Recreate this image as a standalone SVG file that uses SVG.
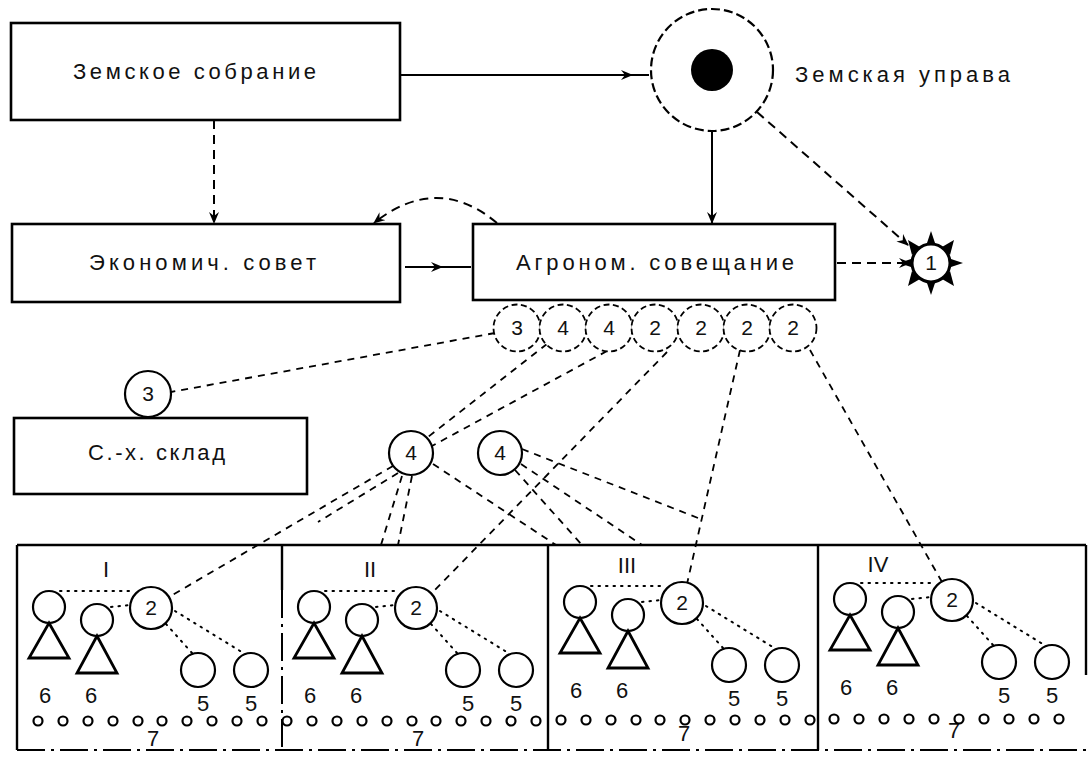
<svg xmlns="http://www.w3.org/2000/svg" width="1089" height="757" viewBox="0 0 1089 757">
<style>
.box{fill:#fff;stroke:#000;stroke-width:2.6}
.lbl{font-family:"Liberation Sans",Arial,sans-serif;font-size:22px;fill:#111}
.num{font-family:"Liberation Sans",Arial,sans-serif;font-size:21px;fill:#111;text-anchor:middle}
.big{font-family:"Liberation Sans",Arial,sans-serif;font-size:22px;fill:#111;text-anchor:middle}
.solid{fill:none;stroke:#000;stroke-width:2}
.dash{fill:none;stroke:#000;stroke-width:2;stroke-dasharray:9 6}
.fine{fill:none;stroke:#000;stroke-width:1.8;stroke-dasharray:7 6}
.dot{fill:none;stroke:#000;stroke-width:2;stroke-dasharray:1.5 6;stroke-linecap:round}
.dc{fill:#fff;stroke:#000;stroke-width:1.8;stroke-dasharray:6 3.5}
.c{fill:#fff;stroke:#000;stroke-width:2.2}
.p{fill:none;stroke:#000;stroke-width:2.8}
.sc{fill:#fff;stroke:#000;stroke-width:2.2}
.frame{fill:none;stroke:#000;stroke-width:2.4}
.dd{fill:none;stroke:#000;stroke-width:2;stroke-dasharray:28 6 3 6}
</style>
<defs>
<marker id="ah" viewBox="0 0 12 10" refX="11" refY="5" markerWidth="12" markerHeight="10" markerUnits="userSpaceOnUse" orient="auto">
<path d="M0,0 L12,5 L0,10 L4,5 Z" fill="#000"/>
</marker>
<g id="sect">
<circle class="c" cx="49" cy="607" r="16"/>
<path class="p" d="M49,623 L69,658 L29,658 Z"/>
<circle class="c" cx="97" cy="620" r="16"/>
<path class="p" d="M97,636 L117,673 L77,673 Z"/>
<circle class="c" cx="151" cy="608" r="21"/>
<text class="num" x="151" y="615">2</text>
<circle class="c" cx="198" cy="670" r="17"/>
<circle class="c" cx="251" cy="670" r="17"/>
<line class="dot" x1="60" y1="591" x2="134" y2="591"/>
<line class="dot" x1="111" y1="607" x2="130" y2="605"/>
<line class="dot" x1="166" y1="624" x2="192" y2="653"/>
<line class="dot" x1="175" y1="611" x2="245" y2="654"/>
<text class="big" x="45" y="703">6</text>
<text class="big" x="91" y="703">6</text>
<text class="big" x="203" y="711">5</text>
<text class="big" x="251" y="711">5</text>
<text class="big" x="153" y="746">7</text>
</g>
</defs>
<rect width="1089" height="757" fill="#fff"/>

<g id="connectors">
<path class="solid" d="M400,75 L632,75 L649,75" marker-mid="url(#ah)"/>
<line class="dash" x1="214" y1="120" x2="214" y2="223" marker-end="url(#ah)"/>
<line class="solid" x1="712" y1="132" x2="712" y2="223" marker-end="url(#ah)"/>
<line class="dash" x1="757" y1="112" x2="908" y2="245" marker-end="url(#ah)"/>
<line class="dash" x1="837" y1="263" x2="910" y2="263" marker-end="url(#ah)"/>
<path class="solid" d="M405,267 L442,267 L471,267" marker-mid="url(#ah)"/>
<path class="dash" d="M497,223 Q437,173 374,223" marker-end="url(#ah)"/>
<line class="fine" x1="495" y1="333" x2="171" y2="392"/>
<line class="fine" x1="547" y1="344" x2="428" y2="437"/>
<line class="fine" x1="607" y1="351" x2="432" y2="446"/>
<line class="fine" x1="667" y1="352" x2="432" y2="593"/>
<line class="fine" x1="740" y1="350" x2="687" y2="584"/>
<line class="fine" x1="810" y1="350" x2="942" y2="582"/>
<line class="fine" x1="393" y1="466" x2="169" y2="597"/>
<line class="fine" x1="398" y1="473" x2="318" y2="522"/>
<line class="fine" x1="402" y1="476" x2="381" y2="545"/>
<line class="fine" x1="412" y1="476" x2="398" y2="545"/>
<line class="fine" x1="433" y1="464" x2="556" y2="545"/>
<line class="fine" x1="515" y1="470" x2="582" y2="545"/>
<line class="fine" x1="521" y1="464" x2="642" y2="545"/>
<line class="fine" x1="522" y1="449" x2="698" y2="518"/>
</g>

<g id="zemskoe-sobranie">
<rect class="box" x="11" y="23" width="389" height="97"/>
<text class="lbl" x="73" y="79" textLength="243" lengthAdjust="spacing">Земское собрание</text>
</g>

<g id="zemskaya-uprava">
<circle cx="712" cy="70" r="61" fill="#fff" stroke="#000" stroke-width="2.2" stroke-dasharray="9 4"/>
<circle cx="712" cy="70" r="21" fill="#000"/>
<text class="lbl" x="795" y="82" textLength="215" lengthAdjust="spacing">Земская управа</text>
</g>

<g id="ekonom-sovet">
<rect class="box" x="12" y="224" width="388" height="78"/>
<text class="lbl" x="89" y="270" textLength="227" lengthAdjust="spacing">Экономич. совет</text>
</g>

<g id="agronom-soveshchanie">
<rect class="box" x="473" y="224" width="362" height="76"/>
<text class="lbl" x="516" y="270" textLength="278" lengthAdjust="spacing">Агроном. совещание</text>
</g>

<g id="sun-1">
<g fill="#000">
<path d="M931,231 L926,246 L936,246 Z"/>
<path d="M931,295 L926,280 L936,280 Z"/>
<path d="M899,263 L914,258 L914,268 Z"/>
<path d="M963,263 L948,258 L948,268 Z"/>
<path d="M908,240 L912,255 L920,247 Z"/>
<path d="M954,240 L950,255 L942,247 Z"/>
<path d="M908,286 L912,271 L920,279 Z"/>
<path d="M954,286 L950,271 L942,279 Z"/>
</g>
<circle cx="931" cy="263" r="19" fill="#fff" stroke="#000" stroke-width="3"/>
<text class="num" x="931" y="270" font-size="18">1</text>
</g>

<g id="row-circles">
<circle class="dc" cx="517" cy="328" r="23.5"/><text class="num" x="517" y="335">3</text>
<circle class="dc" cx="563" cy="328" r="23.5"/><text class="num" x="563" y="335">4</text>
<circle class="dc" cx="609" cy="328" r="23.5"/><text class="num" x="609" y="335">4</text>
<circle class="dc" cx="655" cy="328" r="23.5"/><text class="num" x="655" y="335">2</text>
<circle class="dc" cx="701" cy="328" r="23.5"/><text class="num" x="701" y="335">2</text>
<circle class="dc" cx="747" cy="328" r="23.5"/><text class="num" x="747" y="335">2</text>
<circle class="dc" cx="793" cy="328" r="23.5"/><text class="num" x="793" y="335">2</text>
</g>

<g id="sklad">
<rect class="box" x="14" y="418" width="293" height="76"/>
<circle class="c" cx="148" cy="394" r="23"/>
<text class="num" x="148" y="401">3</text>
<text class="lbl" x="88" y="460" textLength="137" lengthAdjust="spacing">С.-х. склад</text>
</g>

<g id="circle-4a">
<circle class="c" cx="411" cy="453" r="22"/>
<text class="num" x="411" y="460">4</text>
</g>
<g id="circle-4b">
<circle class="c" cx="500" cy="453" r="22"/>
<text class="num" x="500" y="460">4</text>
</g>

<g id="frame">
<line class="frame" x1="17" y1="545" x2="1086" y2="545"/>
<line class="frame" x1="17" y1="545" x2="17" y2="750"/>
<line class="dd" x1="17" y1="750" x2="1086" y2="750"/>
<line class="frame" x1="1086" y1="545" x2="1086" y2="675"/>
<line class="frame" x1="282" y1="545" x2="282" y2="590"/>
<line class="dd" x1="282" y1="590" x2="282" y2="750"/>
<line class="frame" x1="548" y1="545" x2="548" y2="750"/>
<line class="frame" x1="818" y1="545" x2="818" y2="750"/>
<text class="big" x="106" y="577">I</text>
<text class="big" x="370" y="577">II</text>
<text class="big" x="627" y="573">III</text>
<text class="big" x="878" y="572">IV</text>
</g>

<g id="section-I"><use href="#sect"/></g>
<g id="section-II"><use href="#sect" transform="translate(265,0)"/></g>
<g id="section-III"><use href="#sect" transform="translate(531,-5)"/></g>
<g id="section-IV"><use href="#sect" transform="translate(801,-8)"/></g>

<g id="small-row" class="sc">
<circle cx="38" cy="721" r="4.5"/><circle cx="63" cy="721" r="4.5"/><circle cx="88" cy="721" r="4.5"/><circle cx="113" cy="721" r="4.5"/><circle cx="138" cy="721" r="4.5"/><circle cx="162" cy="721" r="4.5"/><circle cx="187" cy="721" r="4.5"/><circle cx="212" cy="721" r="4.5"/><circle cx="237" cy="721" r="4.5"/><circle cx="262" cy="721" r="4.5"/>
<circle cx="287" cy="721" r="4.5"/><circle cx="312" cy="721" r="4.5"/><circle cx="337" cy="721" r="4.5"/><circle cx="362" cy="721" r="4.5"/><circle cx="387" cy="721" r="4.5"/><circle cx="412" cy="721" r="4.5"/><circle cx="436" cy="721" r="4.5"/><circle cx="461" cy="721" r="4.5"/><circle cx="486" cy="721" r="4.5"/><circle cx="511" cy="721" r="4.5"/>
<circle cx="536" cy="721" r="4.5"/><circle cx="561" cy="720" r="4.5"/><circle cx="586" cy="720" r="4.5"/><circle cx="611" cy="720" r="4.5"/><circle cx="636" cy="720" r="4.5"/><circle cx="660" cy="720" r="4.5"/><circle cx="685" cy="720" r="4.5"/><circle cx="710" cy="720" r="4.5"/><circle cx="735" cy="720" r="4.5"/><circle cx="760" cy="720" r="4.5"/>
<circle cx="785" cy="720" r="4.5"/><circle cx="810" cy="720" r="4.5"/><circle cx="834" cy="719" r="4.5"/><circle cx="859" cy="719" r="4.5"/><circle cx="884" cy="719" r="4.5"/><circle cx="909" cy="719" r="4.5"/><circle cx="934" cy="719" r="4.5"/><circle cx="959" cy="719" r="4.5"/><circle cx="984" cy="719" r="4.5"/><circle cx="1009" cy="719" r="4.5"/>
<circle cx="1034" cy="719" r="4.5"/><circle cx="1059" cy="719" r="4.5"/>
</g>
</svg>
